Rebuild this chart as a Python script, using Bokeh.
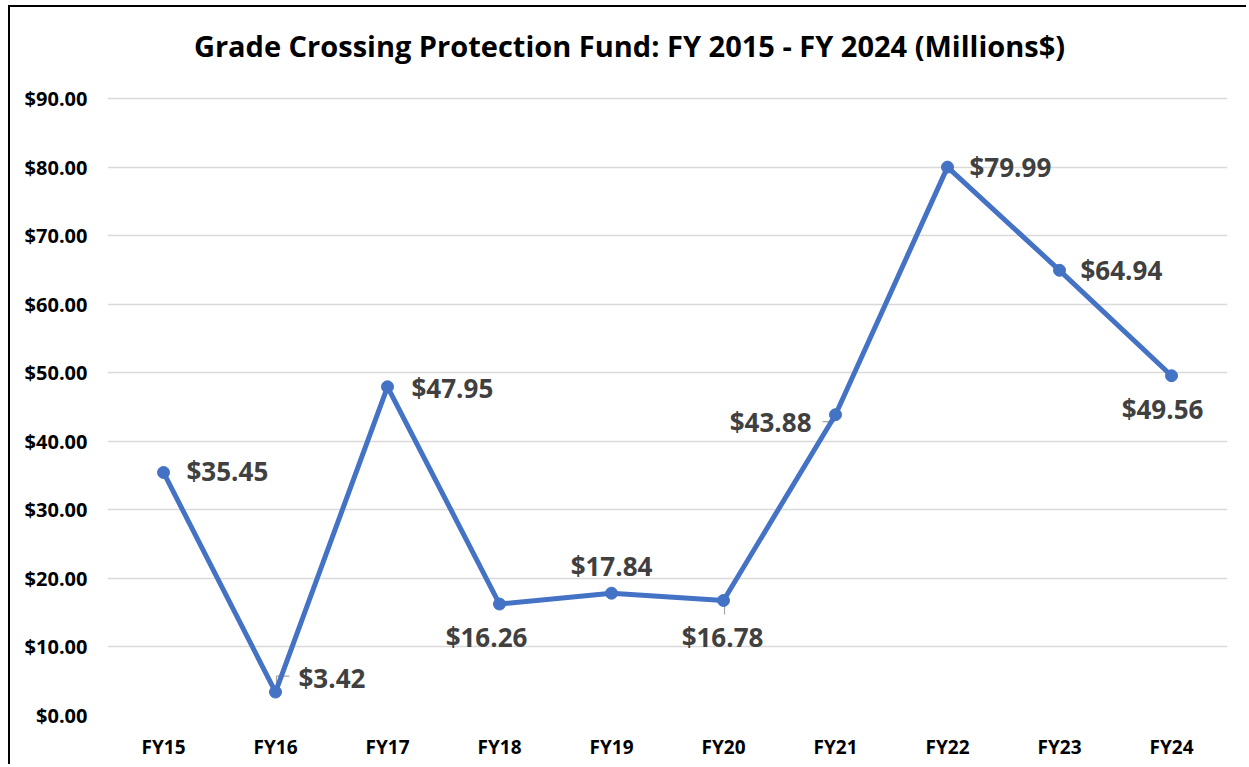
from bokeh.plotting import figure
from bokeh.layouts import column
from bokeh.models import ColumnDataSource, NumeralTickFormatter, FixedTicker, Range1d, Label
from bokeh.core.properties import value
from bokeh.embed import file_html
from bokeh.resources import INLINE

# ---- data ----
categories = ["FY15", "FY16", "FY17", "FY18", "FY19", "FY20", "FY21", "FY22", "FY23", "FY24"]
funding = [35.45, 3.42, 47.95, 16.26, 17.84, 16.78, 43.88, 79.99, 64.94, 49.56]
value_labels = ["$35.45", "$3.42", "$47.95", "$16.26", "$17.84", "$16.78", "$43.88", "$79.99", "$64.94", "$49.56"]
y_ticks = [0, 10, 20, 30, 40, 50, 60, 70, 80, 90]
title_text = "Grade Crossing Protection Fund: FY 2015 - FY 2024 (Millions$)"

# ---- label placement (screen pixel offsets) ----
lab_dx = [23, 23, 24, -13, 0, -1, -24, 22, 21, -9]
lab_dy = [-1, -14, 1, 33, -27, 37, 7, 0, 0, 33]
lab_align = ["left", "left", "left", "center", "center", "center", "right", "left", "left", "center"]

BLUE = "#4472C4"
FONT = "Open Sans"

xs = list(range(len(categories)))
ppu_y = 617 / 90.0      # pixels per $1M on the value axis
ppu_x = 112.0           # pixels per category
top_room = 91 / ppu_y   # headroom above $90 for the title

p = figure(width=1236, height=757, output_backend="svg", toolbar_location=None,
           x_range=Range1d(-0.5, len(categories) - 0.5), y_range=Range1d(0, 90 + top_room),
           min_border_left=97, min_border_right=19, min_border_top=0, min_border_bottom=49)
p.outline_line_color = None
p.background_fill_color = "white"
p.border_fill_color = "white"

# axes
p.xaxis.ticker = FixedTicker(ticks=xs)
p.xaxis.major_label_overrides = {i: c for i, c in enumerate(categories)}
p.yaxis.ticker = FixedTicker(ticks=y_ticks)
p.yaxis.formatter = NumeralTickFormatter(format="$0.00")
for ax in (p.xaxis, p.yaxis):
    ax.axis_line_color = None
    ax.major_tick_line_color = None
    ax.minor_tick_line_color = None
    ax.major_tick_out = 0
    ax.major_tick_in = 0
    ax.major_label_text_font = FONT
    ax.major_label_text_font_style = "bold"
    ax.major_label_text_color = "#000000"
p.xaxis.major_label_text_font_size = "19px"
p.yaxis.major_label_text_font_size = "20px"
p.xaxis.major_label_standoff = 18
p.yaxis.major_label_standoff = 20
p.xgrid.grid_line_color = None
p.ygrid.grid_line_color = "#D9D9D9"
p.ygrid.grid_line_width = 1.5

src = ColumnDataSource(dict(x=xs, y=funding, lab=value_labels, dx=lab_dx, dy=lab_dy, al=lab_align))

# leader lines (derived from data points with pixel offsets)
def px(i, dx):
    return xs[i] + dx / ppu_x
def py(i, dy):
    return funding[i] - dy / ppu_y
leader_x = [[px(1, 1), px(1, 1), px(1, 14)],
            [px(5, 1), px(5, 1)],
            [px(6, -13), px(6, -1), px(6, -1)]]
leader_y = [[py(1, -4), py(1, -16), py(1, -16)],
            [py(5, 2), py(5, 14)],
            [py(6, 7), py(6, 7), py(6, 3)]]
p.multi_line(leader_x, leader_y, line_color="#A6A6A6", line_width=1.2)

p.line("x", "y", source=src, line_color=BLUE, line_width=5, line_join="round")
p.scatter("x", "y", source=src, size=12, fill_color=BLUE, line_color=BLUE)

p.text("x", "y", text="lab", source=src, x_offset="dx", y_offset="dy", text_align="al",
       text_baseline="middle", text_font=value(FONT), text_font_style="bold",
       text_font_size="26px", text_color="#404040")

# chart title (in the headroom above the top gridline)
title = Label(x=(629 - 107) / ppu_x - 0.5, y=90 + 53 / ppu_y, text=title_text,
              text_align="center", text_baseline="middle", text_font=FONT,
              text_font_style="bold", text_font_size="29px", text_color="#000000")
p.add_layout(title)

layout = column(p, styles={"margin-left": "8px", "margin-top": "5px",
                           "border-left": "2px solid #000", "border-top": "2px solid #000"})

open("out.html", "w").write(file_html(layout, INLINE))
